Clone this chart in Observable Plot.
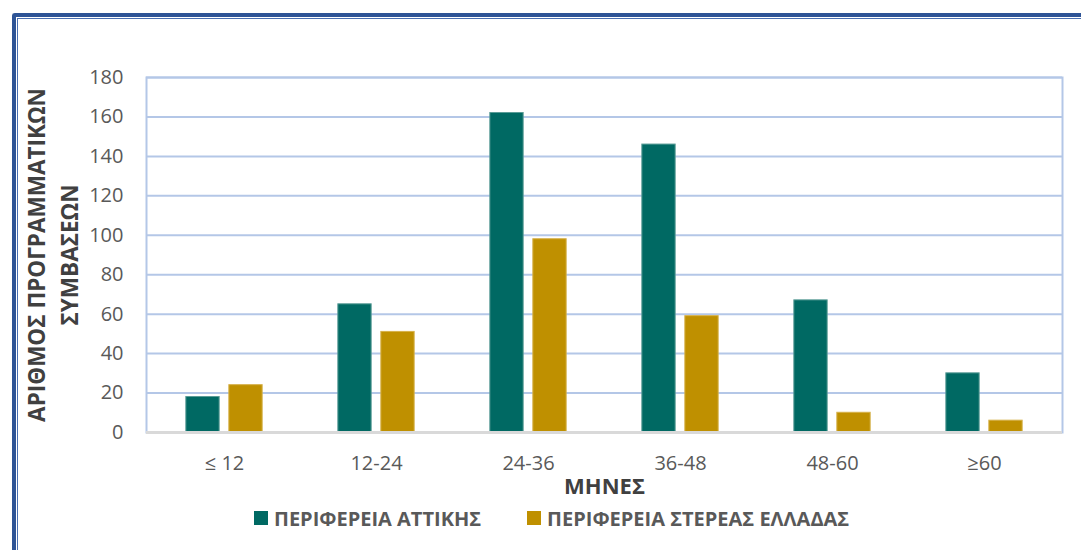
<!DOCTYPE html>
<html>
<head>
<meta charset="utf-8">
<script src="https://cdn.jsdelivr.net/npm/d3@7"></script>
<script src="https://cdn.jsdelivr.net/npm/@observablehq/plot@0.6"></script>
<style>
  html, body { margin: 0; padding: 0; background: white; overflow: hidden; }
  #wrap { position: relative; width: 1081px; height: 550px; overflow: hidden; font-family: "Open Sans", sans-serif; }
  #frame { position: absolute; left: 12px; top: 13px; width: 1200px; height: 700px; box-sizing: border-box;
           border-top: 4px solid #2E5496; border-left: 4px solid #2E5496; border-radius: 3px;
           box-shadow: inset 1px 1px 0 0 white, inset 2px 2px 0 0 #4A6FB2; pointer-events: none; }
  #chart svg { display: block; }
  #legend { display: flex; align-items: center; height: 40px; padding-left: 254px; margin-top: -2px;
            font-weight: bold; font-size: 20px; color: #595959; }
  .item { display: flex; align-items: center; margin-right: 46px; }
  .sw { width: 14px; height: 14px; margin-right: 6px; }
</style>
</head>
<body>
<div id="wrap">
  <div id="chart"></div>
  <div id="legend"></div>
  <div id="frame"></div>
</div>
<script>
const categories = ["≤ 12", "12-24", "24-36", "36-48", "48-60", "≥60"];
const attiki = [18, 65, 162, 146, 67, 30];
const stereaEllada = [24, 51, 98, 59, 10, 6];
const seriesNames = ["ΠΕΡΙΦΕΡΕΙΑ ΑΤΤΙΚΗΣ", "ΠΕΡΙΦΕΡΕΙΑ ΣΤΕΡΕΑΣ ΕΛΛΑΔΑΣ"];
const seriesColors = ["#006963", "#BF9000"];
const yTicks = [0, 20, 40, 60, 80, 100, 120, 140, 160, 180];
const yLabelLines = ["ΑΡΙΘΜΟΣ ΠΡΟΓΡΑΜΜΑΤΙΚΩΝ", "ΣΥΜΒΑΣΕΩΝ"];
const xLabel = "ΜΗΝΕΣ";

const W = 1081, H = 500, ML = 146, MR = 19, MT = 77, MB = 68;
const bw = (W - ML - MR) / categories.length;
const barW = 34, barGap = 9;

const rowsA = categories.map((c, i) => ({cat: c, value: attiki[i]}));
const rowsB = categories.map((c, i) => ({cat: c, value: stereaEllada[i]}));

const chart = Plot.plot({
  width: W, height: H,
  marginLeft: ML, marginRight: MR, marginTop: MT, marginBottom: MB,
  style: {fontFamily: "Open Sans", fontSize: "20px", color: "#595959", background: "white"},
  x: {domain: categories, padding: 0, label: null, tickSize: 0, tickPadding: 23},
  y: {domain: [0, 180], ticks: yTicks, label: null, tickSize: 0, tickPadding: 23},
  marks: [
    Plot.frame({stroke: "#B4C7E7", strokeWidth: 2}),
    Plot.ruleY(yTicks.filter(d => d > 0), {stroke: "#B4C7E7", strokeWidth: 2}),
    Plot.barY(rowsA, {x: "cat", y: "value", fill: seriesColors[0],
      stroke: "#5A9C97", strokeWidth: 1,
      insetLeft: bw / 2 - barGap / 2 - barW, insetRight: bw / 2 + barGap / 2}),
    Plot.barY(rowsB, {x: "cat", y: "value", fill: seriesColors[1],
      stroke: "#D6B14A", strokeWidth: 1,
      insetLeft: bw / 2 + barGap / 2, insetRight: bw / 2 - barGap / 2 - barW}),
    Plot.ruleY([0], {stroke: "#D9D9D9", strokeWidth: 3}),
    Plot.text([yLabelLines[0]], {frameAnchor: "left", rotate: -90, dx: -109, text: d => d,
      textAnchor: "middle", lineAnchor: "middle", fontWeight: "bold", fontSize: 22.5, fill: "#404040"}),
    Plot.text([yLabelLines[1]], {frameAnchor: "left", rotate: -90, dx: -76, text: d => d,
      textAnchor: "middle", lineAnchor: "middle", fontWeight: "bold", fontSize: 22.5, fill: "#404040"}),
    Plot.text([xLabel], {frameAnchor: "bottom", dy: 54, text: d => d,
      lineAnchor: "middle", fontWeight: "bold", fontSize: 22, fill: "#404040"})
  ]
});
document.getElementById("chart").appendChild(chart);

const legend = d3.select("#legend");
seriesNames.forEach((name, i) => {
  const it = legend.append("div").attr("class", "item");
  it.append("div").attr("class", "sw").style("background", seriesColors[i]);
  it.append("span").text(name);
});
</script>
</body>
</html>
